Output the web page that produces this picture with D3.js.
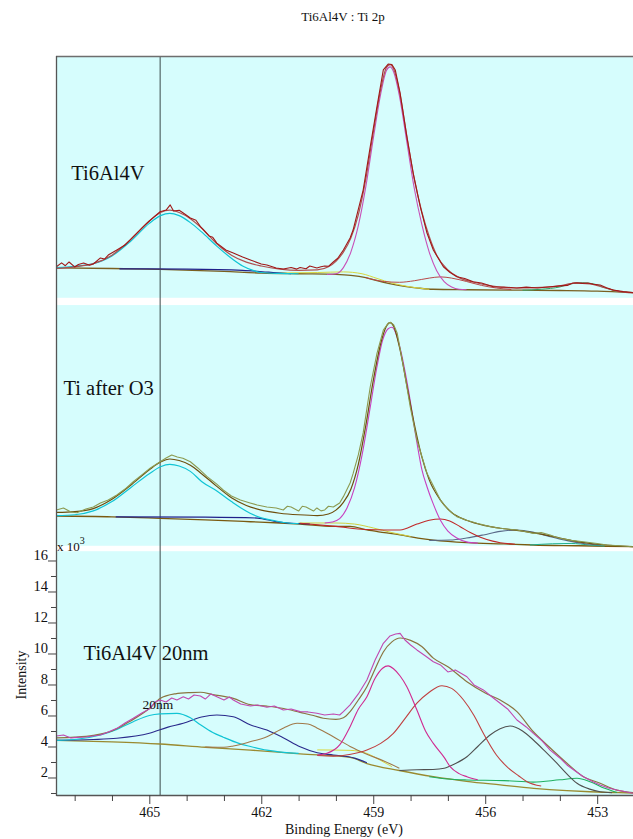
<!DOCTYPE html>
<html><head><meta charset="utf-8">
<script src="https://cdn.jsdelivr.net/npm/d3@7"></script>
<style>body{margin:0;background:#fff}svg{display:block}
svg text{font-family:"Liberation Serif",Tinos,"Times New Roman",Times,serif;fill:#111}</style>
</head><body>
<svg id="c" width="633" height="839"></svg>
<script>
// ---------- data (binding energy eV, intensity x10^3 counts, stacked display) ----------
const titleText = "Ti6Al4V : Ti 2p";
const xLabel = "Binding Energy (eV)";
const yLabel = "Intensity";
const xTickLabels = [465, 462, 459, 456, 453];
const yTickLabels = [2, 4, 6, 8, 10, 12, 14, 16];
const panelLabels = ["Ti6Al4V", "Ti after O3", "Ti6Al4V 20nm"];
const panelLabelPos = [[467.09, 40.55], [467.3, 26.65], [466.76, 9.58]];
const markerEnergy = 464.71;
const gapBands = [[32.48, 32.95], [16.6, 16.95]];
const smallNote = "20nm";
const smallNotePos = [464.77, 6.43];

// Panel 1 : Ti6Al4V
const p1Raw = [[467.49,34.95],[467.35,35.2],[467.25,35.02],[467.15,35.26],[467.0,34.94],[466.9,35.1],[466.76,35.19],[466.6,35.05],[466.5,35.13],[466.31,35.52],[466.2,35.45],[466.1,35.71],[465.87,36.03],[465.65,36.35],[465.43,36.89],[465.2,37.45],[464.97,37.97],[464.71,38.5],[464.55,38.61],[464.44,38.94],[464.35,38.55],[464.2,38.6],[464.09,38.42],[463.9,38.1],[463.75,37.95],[463.63,37.54],[463.4,36.94],[463.3,36.85],[463.19,36.48],[462.95,36.03],[462.75,35.84],[462.5,35.58],[462.29,35.39],[462.0,35.13],[461.85,35.07],[461.6,34.87],[461.41,34.81],[461.2,34.9],[461.05,34.8],[460.96,34.9],[460.8,34.82],[460.7,35.0],[460.51,34.87],[460.4,34.95],[460.3,35.0],[460.2,34.98],[460.07,35.26],[459.95,35.5],[459.8,36.03],[459.62,36.81],[459.54,37.32],[459.27,39.9],[459.08,42.7],[458.9,45.28],[458.73,47.65],[458.6,48.03],[458.5,48.0],[458.41,47.65],[458.28,46.16],[458.1,43.34],[457.93,41.0],[457.74,38.83],[457.56,37.13],[457.39,36.03],[457.12,34.95],[456.95,34.6],[456.76,34.31],[456.55,34.2],[456.32,33.99],[456.1,33.9],[455.78,33.66],[455.5,33.65],[455.15,33.58],[454.9,33.64],[454.6,33.58],[454.26,33.66],[454.0,33.72],[453.8,33.75],[453.65,33.9],[453.54,33.92],[453.4,33.88],[453.25,33.9],[453.1,33.82],[452.92,33.77],[452.75,33.6],[452.57,33.45],[452.3,33.35],[452.04,33.28]];
const p1Env = [[467.49,34.85],[467.0,34.95],[466.5,35.15],[466.0,35.7],[465.5,36.7],[465.0,37.9],[464.7,38.45],[464.45,38.6],[464.2,38.45],[463.9,38.05],[463.6,37.45],[463.2,36.45],[462.8,35.7],[462.4,35.25],[462.0,35.0],[461.5,34.8],[461.0,34.72],[460.5,34.75],[460.2,34.95],[460.0,35.3],[459.8,35.9],[459.6,36.8],[459.4,38.3],[459.2,40.6],[459.0,43.6],[458.8,46.4],[458.65,47.8],[458.55,48.0],[458.45,47.7],[458.3,46.3],[458.1,43.4],[457.9,40.6],[457.7,38.5],[457.5,36.9],[457.3,35.7],[457.0,34.75],[456.7,34.25],[456.3,33.95],[455.8,33.7],[455.2,33.58],[454.5,33.62],[454.0,33.72],[453.6,33.9],[453.2,33.85],[452.8,33.6],[452.4,33.35],[452.04,33.28]];
const p1Bg = [[467.49,34.88],[466.0,34.84],[464.7,34.78],[463.0,34.65],[462.0,34.55],[461.0,34.5],[460.0,34.46],[459.6,34.4],[459.2,34.25],[458.9,34.05],[458.6,33.88],[458.2,33.7],[457.8,33.58],[457.4,33.5],[456.5,33.47],[455.0,33.44],[454.0,33.42],[453.0,33.38],[452.04,33.28]];
const p1Cyan = [[467.49,34.9],[467.0,34.98],[466.5,35.15],[466.0,35.65],[465.5,36.6],[465.0,37.75],[464.7,38.25],[464.45,38.4],[464.2,38.25],[463.9,37.8],[463.6,37.2],[463.2,36.3],[462.8,35.5],[462.5,35.0],[462.2,34.7],[462.0,34.58],[461.5,34.52],[461.0,34.5]];
const p1Navy = [[465.8,34.82],[464.0,34.8],[462.5,34.72],[461.8,34.6],[461.2,34.5]];
const p1Yellow = [[461.5,34.55],[460.5,34.58],[459.8,34.62],[459.3,34.5],[458.9,34.2],[458.5,33.9],[458.0,33.65],[457.5,33.5]];
const p1Main = [[460.24,34.45],[460.0,34.5],[459.8,34.9],[459.6,35.9],[459.4,37.6],[459.2,40.1],[459.0,43.2],[458.8,46.1],[458.65,47.6],[458.55,47.85],[458.45,47.5],[458.3,46.0],[458.1,43.0],[457.9,40.0],[457.7,37.7],[457.5,35.9],[457.3,34.7],[457.1,34.0],[456.9,33.65],[456.7,33.5],[456.5,33.47]];
const p1Red = [[459.2,34.25],[458.7,34.0],[458.3,33.95],[457.9,34.05],[457.5,34.22],[457.2,34.3],[456.9,34.22],[456.5,34.0],[456.1,33.75],[455.7,33.58],[455.3,33.48]];
const p1Green = [[455.0,33.44],[454.5,33.5],[454.0,33.65],[453.7,33.85],[453.4,33.92],[453.1,33.85],[452.8,33.6],[452.5,33.4],[452.2,33.3]];

// Panel 2 : Ti after O3
const p2Raw = [[467.49,19.26],[467.3,19.39],[467.1,19.13],[466.94,19.08],[466.7,19.32],[466.5,19.45],[466.31,19.71],[466.1,19.9],[465.87,20.23],[465.65,20.61],[465.43,21.08],[465.2,21.52],[464.97,21.97],[464.71,22.37],[464.55,22.61],[464.4,22.81],[464.25,22.68],[464.1,22.6],[463.9,22.37],[463.7,21.97],[463.45,21.41],[463.2,20.94],[463.02,20.55],[462.8,20.16],[462.56,19.9],[462.3,19.71],[462.11,19.58],[461.85,19.45],[461.6,19.39],[461.41,19.26],[461.3,19.5],[461.2,19.45],[461.0,19.19],[460.9,19.5],[460.8,19.45],[460.6,19.19],[460.51,19.39],[460.4,19.2],[460.3,19.26],[460.2,19.5],[460.07,19.45],[459.9,19.71],[459.8,20.12],[459.62,21.0],[459.54,21.6],[459.4,22.81],[459.27,24.23],[459.08,27.21],[458.9,29.37],[458.73,30.87],[458.6,31.3],[458.54,31.37],[458.45,31.2],[458.36,30.68],[458.19,28.5],[458.01,25.92],[457.83,23.77],[457.56,21.63],[457.2,19.9],[457.0,19.3],[456.76,18.83],[456.5,18.6],[456.22,18.4],[455.9,18.2],[455.6,18.08],[455.35,18.02],[455.15,17.97],[454.9,17.85],[454.71,17.75],[454.5,17.8],[454.26,17.65],[454.1,17.5],[453.99,17.43],[453.7,17.3],[453.37,17.21],[453.0,17.1],[452.74,17.0],[452.4,16.95],[452.04,16.89]];
const p2Env = [[467.49,19.1],[467.0,19.15],[466.5,19.35],[466.0,19.95],[465.5,20.85],[465.0,21.85],[464.7,22.35],[464.45,22.55],[464.2,22.45],[463.9,22.15],[463.6,21.6],[463.2,20.8],[462.8,20.05],[462.4,19.55],[462.0,19.25],[461.5,19.05],[461.0,18.95],[460.5,18.9],[460.2,19.0],[460.0,19.25],[459.8,19.75],[459.6,20.6],[459.4,22.2],[459.2,24.7],[459.0,27.6],[458.8,30.0],[458.65,31.1],[458.55,31.35],[458.45,31.1],[458.3,29.8],[458.1,27.3],[457.9,24.8],[457.7,22.7],[457.5,21.2],[457.2,19.9],[456.9,19.1],[456.5,18.6],[456.0,18.25],[455.5,18.05],[455.0,17.9],[454.5,17.7],[454.0,17.45],[453.5,17.2],[453.0,17.05],[452.5,16.95],[452.04,16.9]];
const p2Bg = [[467.49,18.87],[466.0,18.82],[464.71,18.72],[463.5,18.62],[462.29,18.5],[461.5,18.42],[460.96,18.35],[460.07,18.2],[459.62,18.2],[459.17,17.97],[458.7,17.8],[458.28,17.65],[457.8,17.45],[457.39,17.32],[456.49,17.15],[455.5,17.07],[454.71,17.0],[453.5,16.95],[452.04,16.89]];
const p2Cyan = [[467.49,18.9],[467.0,18.95],[466.5,19.2],[466.0,19.8],[465.5,20.7],[465.0,21.6],[464.7,22.05],[464.45,22.2],[464.2,22.1],[463.9,21.75],[463.6,21.1],[463.2,20.5],[462.8,19.8],[462.3,19.05],[462.0,18.75],[461.6,18.55],[461.4,18.45],[461.0,18.38]];
const p2Navy = [[465.9,18.82],[463.5,18.8],[462.1,18.74],[461.6,18.5],[461.3,18.42],[460.7,18.35]];
const p2Yellow = [[461.0,18.42],[460.0,18.42],[459.5,18.35],[459.0,18.1],[458.5,17.8],[458.0,17.55]];
const p2Main = [[460.3,18.42],[460.1,18.48],[459.9,18.7],[459.7,19.4],[459.5,20.7],[459.3,22.8],[459.1,25.6],[458.9,28.5],[458.75,30.2],[458.6,30.95],[458.5,31.05],[458.4,30.7],[458.25,29.4],[458.05,26.9],[457.85,23.9],[457.7,21.9],[457.56,20.76],[457.4,19.7],[457.2,18.6],[457.0,17.9],[456.76,17.45],[456.5,17.2],[456.2,17.12]];
const p2Red = [[460.96,18.4],[460.0,18.2],[459.2,18.0],[458.7,17.97],[458.28,17.97],[457.83,18.35],[457.5,18.6],[457.2,18.68],[456.95,18.55],[456.67,18.18],[456.4,17.8],[456.13,17.5],[455.8,17.25],[455.6,17.15],[455.2,17.05]];
const p2Blue = [[457.5,17.3],[456.94,17.32],[456.5,17.45],[456.05,17.65],[455.6,17.88],[455.15,17.97],[454.7,17.82],[454.26,17.54],[453.8,17.28],[453.37,17.1],[452.9,17.0]];
const p2Green = [[454.8,17.0],[454.2,17.08],[453.7,17.1],[453.2,17.0],[452.8,16.93]];

// Panel 3 : Ti6Al4V 20nm
const p3Raw = [[467.49,4.68],[467.3,4.74],[467.1,4.55],[466.94,4.59],[466.7,4.61],[466.5,4.68],[466.31,4.74],[466.1,4.94],[465.87,5.17],[465.65,5.52],[465.43,5.82],[465.2,6.16],[464.97,6.46],[464.85,6.87],[464.71,7.0],[464.55,6.87],[464.4,7.13],[464.26,7.0],[464.09,7.21],[463.95,7.06],[463.8,7.32],[463.63,7.26],[463.5,7.06],[463.35,7.39],[463.19,7.21],[463.0,7.0],[462.85,7.19],[462.75,7.0],[462.55,6.74],[462.29,6.61],[462.1,6.68],[461.85,6.53],[461.65,6.61],[461.41,6.35],[461.2,6.42],[460.96,6.25],[460.75,6.23],[460.51,6.14],[460.3,6.03],[460.07,6.1],[459.9,6.03],[459.8,6.25],[459.62,6.68],[459.4,7.39],[459.17,8.29],[458.95,9.58],[458.73,10.66],[458.55,11.13],[458.4,11.26],[458.28,11.3],[458.15,10.87],[458.0,10.55],[457.83,10.23],[457.6,9.84],[457.39,9.47],[457.2,9.26],[457.0,8.81],[456.8,8.94],[456.49,8.5],[456.3,7.97],[456.05,7.65],[455.85,7.26],[455.6,6.79],[455.4,6.42],[455.15,5.71],[454.9,5.26],[454.71,4.85],[454.5,4.42],[454.26,3.77],[454.0,3.26],[453.81,2.81],[453.55,2.35],[453.37,2.05],[453.1,1.71],[452.92,1.52],[452.7,1.32],[452.47,1.19],[452.2,1.06],[452.04,0.98]];
const p3Env = [[467.49,4.55],[467.0,4.6],[466.5,4.72],[466.0,5.0],[465.5,5.65],[465.0,6.45],[464.71,7.1],[464.3,7.4],[463.9,7.48],[463.63,7.5],[463.3,7.35],[462.75,7.1],[462.3,6.7],[461.85,6.6],[461.4,6.45],[460.96,6.2],[460.6,6.0],[460.34,5.82],[460.0,5.75],[459.8,5.85],[459.62,6.25],[459.4,7.0],[459.17,7.86],[458.95,9.0],[458.73,10.1],[458.5,10.75],[458.28,11.0],[458.0,10.85],[457.7,10.45],[457.39,9.7],[457.0,9.15],[456.49,8.18],[456.0,7.45],[455.6,7.0],[455.15,6.25],[454.71,4.95],[454.3,4.0],[453.81,2.92],[453.4,2.1],[452.92,1.63],[452.5,1.2],[452.04,1.02]];
const p3Bg = [[467.49,4.4],[466.0,4.3],[464.71,4.16],[463.5,3.95],[462.29,3.77],[460.96,3.52],[459.62,3.3],[459.17,2.9],[458.3,2.45],[457.39,2.05],[456.5,1.75],[455.6,1.52],[454.7,1.3],[453.81,1.15],[453.2,1.08],[452.47,1.03],[452.04,1.0]];
const p3Cyan = [[467.49,4.4],[467.0,4.45],[466.31,4.74],[465.87,5.1],[465.43,5.6],[465.0,6.0],[464.71,6.1],[464.26,6.14],[463.9,5.85],[463.63,5.4],[463.3,4.9],[463.02,4.6],[462.6,4.2],[462.29,4.0],[461.85,3.76],[461.4,3.62],[461.0,3.55]];
const p3Navy = [[467.49,4.4],[466.5,4.45],[465.87,4.53],[465.0,4.85],[464.5,5.25],[464.09,5.5],[463.6,5.9],[463.19,6.03],[462.75,5.92],[462.3,5.4],[461.85,5.06],[461.4,4.55],[460.96,3.99],[460.5,3.6],[460.07,3.45],[459.5,3.25],[459.17,2.95]];
const p3Brown = [[463.5,3.96],[463.0,3.95],[462.75,4.03],[462.3,4.3],[461.85,4.63],[461.4,5.2],[461.04,5.5],[460.75,5.45],[460.51,5.2],[460.07,4.63],[459.62,4.0],[459.17,3.5],[458.7,3.05],[458.3,2.6]];
const p3Yellow = [[460.5,3.78],[459.62,3.75],[459.17,3.55],[458.8,3.1],[458.5,2.7]];
const p3Main = [[460.5,3.45],[460.24,3.56],[459.9,4.1],[459.62,5.28],[459.4,6.4],[459.17,7.21],[458.95,8.4],[458.75,9.05],[458.6,9.2],[458.45,9.0],[458.28,8.55],[458.1,7.86],[457.83,6.35],[457.6,5.0],[457.39,4.2],[457.1,3.3],[456.94,2.7],[456.7,2.25],[456.49,2.05],[456.2,1.85]];
const p3Red = [[460.5,3.42],[460.07,3.38],[459.6,3.5],[459.17,3.77],[458.8,4.2],[458.46,4.85],[458.15,5.8],[457.83,6.79],[457.5,7.5],[457.16,7.92],[456.9,7.75],[456.58,7.0],[456.3,6.0],[456.05,4.85],[455.7,3.45],[455.42,2.7],[455.1,2.1],[454.88,1.73],[454.5,1.45]];
const p3Black = [[458.3,2.45],[457.83,2.5],[457.4,2.52],[457.1,2.6],[456.8,2.9],[456.49,3.34],[456.2,4.0],[455.87,4.74],[455.6,5.15],[455.33,5.32],[455.0,5.0],[454.71,4.42],[454.4,3.7],[454.08,2.92],[453.8,2.2],[453.54,1.63],[453.2,1.25],[452.92,1.08],[452.6,1.02]];
const p3Green = [[457.5,2.05],[457.0,1.9],[456.49,1.84],[455.5,1.8],[454.71,1.7],[454.0,1.85],[453.54,1.95],[453.19,1.73],[452.8,1.3],[452.47,1.03]];

// ---------- chart ----------
const W = 633, H = 839;
const svg = d3.select("#c");
const x = d3.scaleLinear().domain([467.5, 452.0]).range([56, 634.5]);
const y = d3.scaleLinear().domain([0.87, 48.55]).range([795, 56]);
const FONT = '"Liberation Serif",Tinos,"Times New Roman",Times,serif';

svg.append("defs").append("clipPath").attr("id","clip")
  .append("rect").attr("x",56).attr("y",56).attr("width",W-56).attr("height",795-56);

svg.append("rect").attr("x",56).attr("y",56).attr("width",W-56).attr("height",795-56).attr("fill","#d6fdfd");

const plot = svg.append("g").attr("clip-path","url(#clip)");

plot.selectAll("rect.band").data(gapBands).join("rect").attr("class","band")
  .attr("x",56).attr("width",W-56)
  .attr("y",d=>y(d[1])).attr("height",d=>y(d[0])-y(d[1])).attr("fill","#ffffff");

plot.append("line").attr("x1",x(markerEnergy)).attr("x2",x(markerEnergy))
  .attr("y1",56).attr("y2",795).attr("stroke","#3a4a4a").attr("stroke-width",1);

const smooth = d3.line().x(d=>x(d[0])).y(d=>y(d[1])).curve(d3.curveMonotoneX);
const jagged = d3.line().x(d=>x(d[0])).y(d=>y(d[1])).curve(d3.curveLinear);

const series = [
  {d:p1Bg, c:"#7a6020", w:1.3, s:true},
  {d:p1Yellow, c:"#d8d840", w:1, s:true},
  {d:p1Navy, c:"#20208a", w:1.2, s:true},
  {d:p1Green, c:"#30a060", w:1, s:true},
  {d:p1Red, c:"#b84848", w:1, s:true},
  {d:p1Cyan, c:"#10c4d4", w:1.2, s:true},
  {d:p1Main, c:"#c850b8", w:1.1, s:true},
  {d:p1Env, c:"#b05050", w:1.2, s:true},
  {d:p1Raw, c:"#a01818", w:1.1, s:false},
  {d:p2Bg, c:"#7a5a10", w:1.3, s:true},
  {d:p2Yellow, c:"#d0d040", w:1, s:true},
  {d:p2Navy, c:"#20208a", w:1.2, s:true},
  {d:p2Green, c:"#20b090", w:1, s:true},
  {d:p2Blue, c:"#5a6a88", w:1.1, s:true},
  {d:p2Red, c:"#c02828", w:1.1, s:true},
  {d:p2Cyan, c:"#10c4d4", w:1.2, s:true},
  {d:p2Main, c:"#c840c0", w:1.1, s:true},
  {d:p2Env, c:"#6e4e0c", w:1.2, s:true},
  {d:p2Raw, c:"#8c9a50", w:1.1, s:false},
  {d:p3Bg, c:"#9a8a30", w:1.3, s:true},
  {d:p3Yellow, c:"#d8d840", w:1, s:true},
  {d:p3Green, c:"#20b060", w:1.1, s:true},
  {d:p3Navy, c:"#2a2a8c", w:1.1, s:true},
  {d:p3Cyan, c:"#10c4d4", w:1.2, s:true},
  {d:p3Brown, c:"#a07848", w:1.1, s:true},
  {d:p3Black, c:"#505050", w:1.1, s:true},
  {d:p3Red, c:"#c04040", w:1.1, s:true},
  {d:p3Main, c:"#d02a90", w:1.1, s:true},
  {d:p3Env, c:"#8a7440", w:1.2, s:true},
  {d:p3Raw, c:"#c048b0", w:1.1, s:false}
];
plot.selectAll("path.s").data(series).join("path").attr("class","s")
  .attr("fill","none").attr("stroke",d=>d.c).attr("stroke-width",d=>d.w)
  .attr("stroke-linejoin","round")
  .attr("d",d=>(d.s?smooth:jagged)(d.d));

svg.selectAll("text.pl").data(panelLabels).join("text").attr("class","pl")
  .attr("x",(d,i)=>x(panelLabelPos[i][0])).attr("y",(d,i)=>y(panelLabelPos[i][1]))
  .attr("font-size",20.5).attr("font-family",FONT).text(d=>d);
svg.append("text").attr("x",x(smallNotePos[0])).attr("y",y(smallNotePos[1]))
  .attr("font-size",13.5).attr("font-family",FONT).attr("text-anchor","middle").text(smallNote);

svg.append("line").attr("x1",56).attr("x2",W).attr("y1",56.5).attr("y2",56.5)
  .attr("stroke","#6e6e6e").attr("stroke-width",1.6);
svg.append("line").attr("x1",56.5).attr("x2",56.5).attr("y1",56).attr("y2",796)
  .attr("stroke","#555").attr("stroke-width",1.3);

const xAxis = d3.axisBottom(x).tickValues(d3.range(452,468,1))
  .tickFormat(d=>xTickLabels.includes(d)?d:"").tickSizeOuter(0);
const gx = svg.append("g").attr("transform","translate(0,795)").call(xAxis).attr("font-family",FONT);
gx.select(".domain").attr("stroke","#555").attr("stroke-width",1.3);
gx.selectAll(".tick line").attr("stroke","#444")
  .attr("y2",d=>xTickLabels.includes(d)?9:6);
gx.selectAll(".tick text").attr("font-size",14).attr("fill","#222").attr("y",12).attr("dy","0.71em");

const yAxis = d3.axisLeft(y).tickValues(d3.range(1,17,1))
  .tickFormat(d=>yTickLabels.includes(d)?d:"").tickSizeOuter(0);
const gy = svg.append("g").attr("transform","translate(56,0)").call(yAxis).attr("font-family",FONT);
gy.select(".domain").remove();
gy.selectAll(".tick line").attr("stroke","#444").attr("x2",d=>yTickLabels.includes(d)?-8:-5);
gy.selectAll(".tick text").attr("font-size",14.5).attr("fill","#222").attr("x",-8).attr("dy","-0.05em");

const mult = svg.append("text").attr("x",57).attr("y",y(16.62)).attr("font-size",13).attr("font-family",FONT);
mult.append("tspan").text("x 10");
mult.append("tspan").attr("dy",-7).attr("font-size",10).text("3");

svg.append("text").attr("x",343).attr("y",21).attr("text-anchor","middle").attr("font-size",13).attr("font-family",FONT).text(titleText);
svg.append("text").attr("x",344).attr("y",834).attr("text-anchor","middle").attr("font-size",14).attr("font-family",FONT).text(xLabel);
svg.append("text").attr("transform","translate(26,675) rotate(-90)").attr("text-anchor","middle").attr("font-size",14).attr("font-family",FONT).text(yLabel);
</script>
</body></html>
